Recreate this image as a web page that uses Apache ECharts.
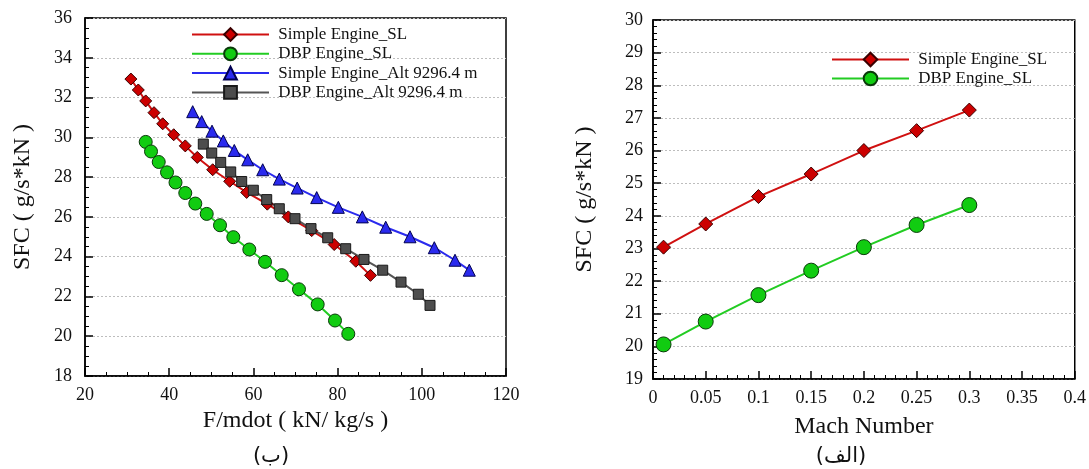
<!DOCTYPE html>
<html>
<head>
<meta charset="utf-8">
<script src="https://cdn.jsdelivr.net/npm/echarts@6/dist/echarts.min.js"></script>
<style>
html, body { margin: 0; padding: 0; background: #fff; }
#main { width: 1089px; height: 469px; }
</style>
</head>
<body>
<div id="main"></div>
<script>
// left panel: SFC vs F/mdot
var simpleSL = [[30.9,32.93],[32.66,32.38],[34.42,31.83],[36.39,31.24],[38.46,30.68],[41.07,30.13],[43.82,29.57],[46.67,28.99],[50.33,28.37],[54.37,27.79],[58.4,27.23],[63.3,26.64],[68.29,26.0],[73.85,25.31],[79.19,24.61],[84.32,23.77],[87.81,23.06]];
var dbpSL = [[34.42,29.77],[35.68,29.29],[37.51,28.76],[39.48,28.24],[41.5,27.73],[43.82,27.2],[46.2,26.67],[48.91,26.15],[52.07,25.58],[55.23,24.98],[59.03,24.36],[62.76,23.74],[66.72,23.07],[70.83,22.36],[75.27,21.6],[79.38,20.79],[82.54,20.12]];
var simpleAlt = [[45.58,31.29],[47.72,30.79],[50.17,30.31],[52.85,29.82],[55.46,29.34],[58.65,28.87],[62.21,28.37],[66.15,27.9],[70.4,27.45],[75.04,26.97],[80.17,26.48],[85.87,26.0],[91.43,25.48],[97.2,25.0],[102.97,24.45],[107.89,23.82],[111.28,23.32]];
var dbpAlt = [[48.1,29.66],[50.1,29.21],[52.23,28.74],[54.61,28.26],[57.22,27.78],[59.98,27.34],[63.16,26.87],[66.15,26.41],[69.88,25.91],[73.68,25.41],[77.65,24.95],[81.92,24.4],[86.27,23.86],[90.71,23.32],[95.06,22.72],[99.17,22.11],[101.95,21.55]];

// right panel: SFC vs Mach number
var mach = [0.01, 0.05, 0.1, 0.15, 0.2, 0.25, 0.3];
var simpleMach = [23.04, 23.75, 24.59, 25.28, 26.0, 26.61, 27.24];
var dbpMach = [20.06, 20.76, 21.57, 22.32, 23.04, 23.72, 24.33];

var names = ['Simple Engine_SL', 'DBP Engine_SL', 'Simple Engine_Alt 9296.4 m', 'DBP Engine_Alt 9296.4 m'];

var serif = 'Liberation Serif';
var nameFont = { color: '#111', fontFamily: serif, fontSize: 24 };
var gridLine = { color: '#bdbdbd', type: [2, 2], width: 1 };

function axis(idx, o) {
    var a = {
        gridIndex: idx,
        type: 'value',
        nameLocation: 'middle',
        nameTextStyle: nameFont,
        axisLine: { show: true, onZero: false, lineStyle: { color: '#000', width: 1.5 } },
        axisTick: { show: true, inside: true, length: 8, lineStyle: { color: '#000', width: 1.5 } },
        axisLabel: { color: '#111', fontFamily: serif, fontSize: 18, margin: 10 },
        splitLine: { show: true, lineStyle: gridLine }
    };
    for (var k in o) a[k] = o[k];
    return a;
}

function minor(n) {
    return { show: true, splitNumber: n, length: 4, lineStyle: { color: '#000' } };
}

function zip(xs, ys) {
    return xs.map(function (x, i) { return [x, ys[i]]; });
}

function line(name, data, xi, color, symbol, size, fill, border) {
    return {
        name: name,
        type: 'line',
        xAxisIndex: xi,
        yAxisIndex: xi,
        data: data,
        symbol: symbol,
        symbolSize: size,
        showAllSymbol: true,
        lineStyle: { color: color, width: 2 },
        itemStyle: { color: fill, borderColor: border, borderWidth: 1 },
        animation: false
    };
}

function pad(n) { return ' ' + n; }

var myChart = echarts.init(document.getElementById('main'));
var option = {
    backgroundColor: '#fff',
    title: [
        { text: '(ب)', left: 266, top: 441, textAlign: 'center',
          textStyle: { fontFamily: 'DejaVu Sans', fontSize: 21, fontWeight: 'normal', color: '#111' } },
        { text: '(الف)', left: 836, top: 441, textAlign: 'center',
          textStyle: { fontFamily: 'DejaVu Sans', fontSize: 21, fontWeight: 'normal', color: '#111' } }
    ],
    legend: [
        { data: names, orient: 'vertical', left: 186, top: 21, itemWidth: 77, itemHeight: 16, itemGap: 2.3,
          formatter: pad, textStyle: { fontFamily: serif, fontSize: 17, color: '#111' } },
        { data: names.slice(0, 2), orient: 'vertical', left: 826, top: 46, itemWidth: 77, itemHeight: 17, itemGap: 2,
          formatter: pad, textStyle: { fontFamily: serif, fontSize: 17, color: '#111' } }
    ],
    grid: [
        { left: 85, right: 583, top: 18, bottom: 93, show: true, borderColor: '#000', borderWidth: 1.5 },
        { left: 653, right: 13, top: 20, bottom: 90, show: true, borderColor: '#000', borderWidth: 1.5 }
    ],
    xAxis: [
        axis(0, { min: 20, max: 120, interval: 20, minorTick: minor(4),
                  name: 'F/mdot ( kN/ kg/s )', nameGap: 28, splitLine: { show: false } }),
        axis(1, { min: 0, max: 0.4, interval: 0.05, minorTick: minor(5),
                  name: 'Mach Number', nameGap: 36, splitLine: { show: false } })
    ],
    yAxis: [
        axis(0, { min: 18, max: 36, interval: 2, minorTick: minor(4),
                  axisLabel: { color: '#111', fontFamily: serif, fontSize: 18, margin: 13 },
                  name: 'SFC ( g/s*kN )', nameGap: 50 }),
        axis(1, { min: 19, max: 30, interval: 1, minorTick: minor(5),
                  name: 'SFC ( g/s*kN )', nameGap: 56 })
    ],
    series: [
        line(names[0], simpleSL, 0, '#d01010', 'diamond', 12, '#cc0000', '#3a0000'),
        line(names[1], dbpSL, 0, '#22cc22', 'circle', 13, '#11cc11', '#0a3a0a'),
        line(names[2], simpleAlt, 0, '#2a2aee', 'triangle', 12, '#2a2aee', '#000050'),
        line(names[3], dbpAlt, 0, '#555555', 'rect', 10, '#4d4d4d', '#1a1a1a'),
        line(names[0], zip(mach, simpleMach), 1, '#d01010', 'diamond', 14, '#cc0000', '#3a0000'),
        line(names[1], zip(mach, dbpMach), 1, '#22cc22', 'circle', 15, '#11cc11', '#0a3a0a')
    ]
};
myChart.setOption(option);
</script>
</body>
</html>
